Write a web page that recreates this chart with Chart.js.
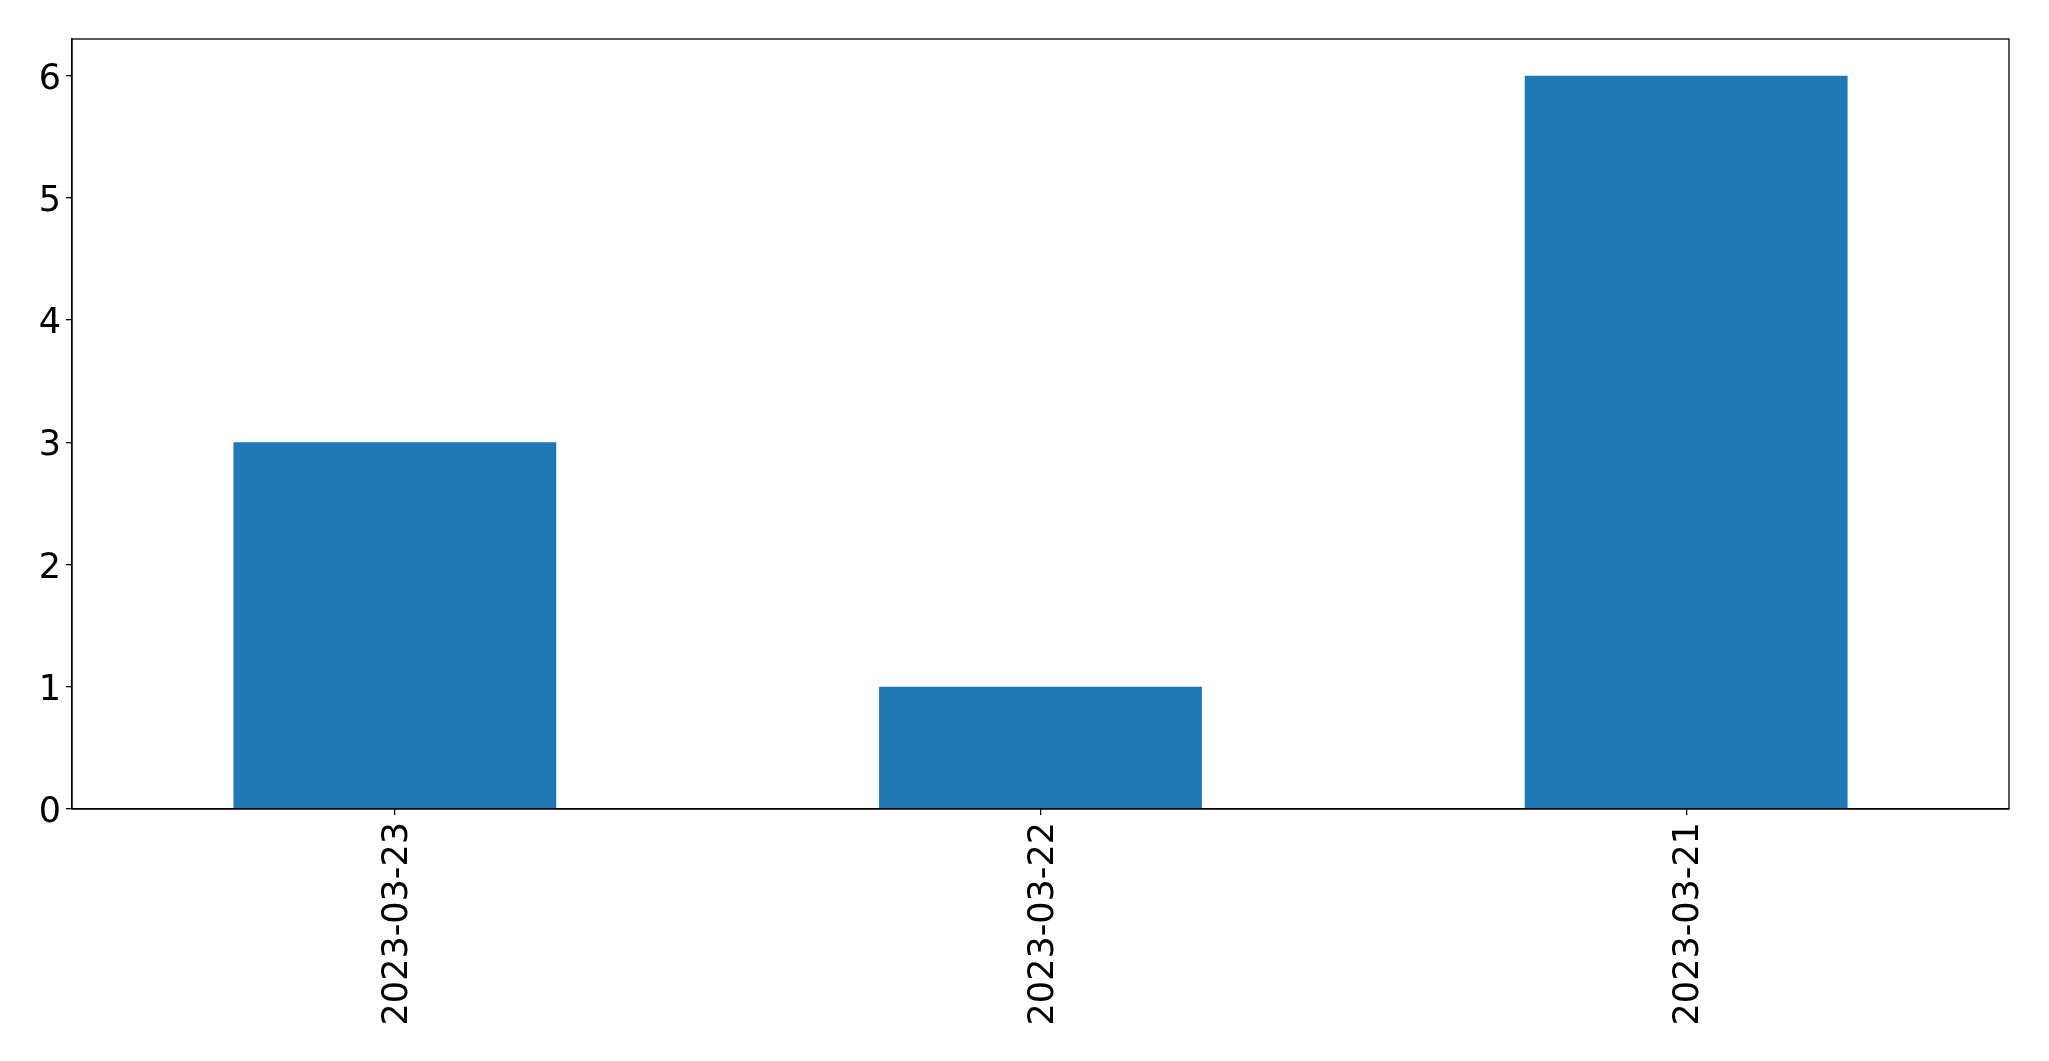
<!DOCTYPE html>
<html>
<head>
<meta charset="utf-8">
<script src="https://cdn.jsdelivr.net/npm/chart.js@4/dist/chart.umd.min.js"></script>
<style>
  html, body { margin: 0; padding: 0; background: #fff; }
  #wrap { width: 2049px; height: 1061px; }
</style>
</head>
<body>
<div id="wrap"><canvas id="c"></canvas></div>
<script>
// data
const dates = ['2023-03-23', '2023-03-22', '2023-03-21'];
const counts = [3, 1, 6];
const yTicks = [0, 1, 2, 3, 4, 5, 6];

const FONT = { family: 'DejaVu Sans', size: 35 };

// top/right spines, matplotlib style box
const frame = {
    id: 'frame',
    afterDraw(chart) {
        const { ctx, chartArea: a } = chart;
        ctx.save();
        ctx.strokeStyle = '#000';
        ctx.lineWidth = 1.3;
        ctx.strokeRect(a.left, a.top, a.right - a.left, a.bottom - a.top);
        ctx.restore();
    }
};

new Chart(document.getElementById('c'), {
    type: 'bar',
    data: {
        labels: dates,
        datasets: [{
            data: counts,
            backgroundColor: '#1f77b4',
            borderWidth: 0,
            categoryPercentage: 1.0,
            barPercentage: 0.5
        }]
    },
    options: {
        responsive: true,
        maintainAspectRatio: false,
        animation: false,
        layout: { padding: { left: 0, right: 40, top: 39, bottom: 0 } },
        plugins: { legend: { display: false }, tooltip: { enabled: false } },
        scales: {
            x: {
                offset: true,
                grid: { display: true, drawOnChartArea: false, drawTicks: true, tickLength: 6, offset: false, color: '#000', lineWidth: 1.3 },
                border: { display: true, color: '#000', width: 1.3 },
                ticks: { color: '#000', font: FONT, minRotation: 90, maxRotation: 90, padding: 7, labelOffset: 3, autoSkip: false },
                afterFit(scale) { scale.height = 1061 - 809; }
            },
            y: {
                min: 0,
                max: 6.3,
                afterBuildTicks(scale) { scale.ticks = yTicks.map(v => ({ value: v })); },
                grid: { display: true, drawOnChartArea: false, drawTicks: true, tickLength: 6, color: '#000', lineWidth: 1.3 },
                border: { display: true, color: '#000', width: 1.3 },
                ticks: { color: '#000', font: FONT, padding: 5, labelOffset: 4 },
                afterFit(scale) { scale.width = 72; }
            }
        }
    },
    plugins: [frame]
});
</script>
</body>
</html>
